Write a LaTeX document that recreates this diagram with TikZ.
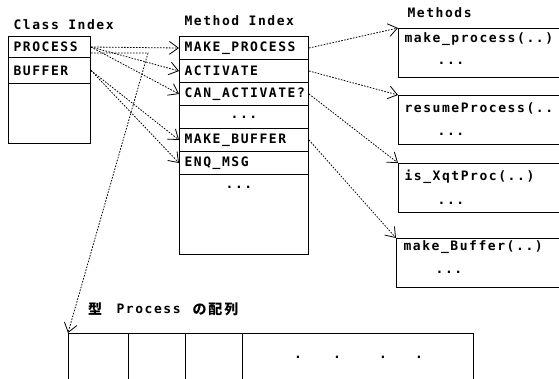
\documentclass[tikz,border=0pt]{standalone}
\usepackage{fontspec}
\newfontfamily\plotfont[LetterSpace=12]{DejaVu Sans Mono}
\newfontfamily\jpfont{Noto Sans CJK JP}
\usetikzlibrary{arrows.meta}

\tikzset{every picture/.style={line width=1pt}}

\begin{document}
\begin{tikzpicture}[x=1pt,y=1pt,yscale=-1,
  txt/.style={font=\plotfont\bfseries\fontsize{13}{15}\selectfont, inner sep=0pt},
  jp/.style={font=\jpfont\bfseries\fontsize{14}{14}\selectfont, inner sep=0pt},
  row/.style={draw, anchor=north west, txt, inner xsep=5pt, align=left},
  clsrow/.style={row, text width=72pt},
  idxrow/.style={row, text width=119pt, minimum height=23pt},
  body/.style={draw, anchor=north west, minimum width=180pt, minimum height=49pt},
  slot/.style={draw, anchor=north west, minimum height=60pt},
  link/.style={dash pattern=on 1.6pt off 1.4pt, line width=0.8pt,
    -{Straight Barb[length=9pt,width=13pt,line width=0.8pt]}}]
	\useasboundingbox (0,0) rectangle (559,378);
	\clip (0,0) rectangle (559,378);
	
	% Class Index
	\node[txt, anchor=west] (clstitle) at (13,25) {Class Index};
	\node[clsrow, minimum height=21pt] (process) at (8,36) {PROCESS};
	\node[clsrow, minimum height=26pt] (buffer) at (8,57) {BUFFER};
	\node[clsrow, minimum height=60pt] (clsrest) at (8,83) {};
	
	% Method Index
	\node[txt, anchor=west] (idxtitle) at (184,21) {Method Index};
	\node[idxrow] (mproc) at (179,36) {MAKE\_PROCESS};
	\node[idxrow] (mact) at (179,59) {ACTIVATE};
	\node[idxrow] (mcan) at (179,82) {CAN\_ACTIVATE?};
	\node[idxrow, align=center] (mgap) at (179,105) {...};
	\node[idxrow] (mbuf) at (179,128) {MAKE\_BUFFER};
	\node[idxrow] (menq) at (179,151) {ENQ\_MSG};
	\node[idxrow, minimum height=80pt] (mrest) at (179,174) {};
	\node[txt] (mdots) at (239,187) {...};
	
	% Methods
	\node[txt, anchor=west] (bodytitle) at (407,13) {Methods};
	\node[body] (meth1) at (398,28) {};
	\node[txt, anchor=west] (name1) at (404,39) {make\_process(..)};
	\node[txt] (dots1) at (451,63) {...};
	\node[body] (meth2) at (398,95) {};
	\node[txt, anchor=west] (name2) at (404,108) {resumeProcess(..};
	\node[txt] (dots2) at (451,134) {...};
	\node[body] (meth3) at (398,163) {};
	\node[txt, anchor=west] (name3) at (404,177) {is\_XqtProc(..)};
	\node[txt] (dots3) at (451,203) {...};
	\node[body] (meth4) at (396,238) {};
	\node[txt, anchor=west] (name4) at (403,247) {make\_Buffer(..)};
	\node[txt] (dots4) at (449,272) {...};
	
	% array of Process
	\node[jp] (arrtype) at (95,309) {型};
	\node[txt, anchor=west] (arrname) at (116,309) {Process};
	\node[jp, anchor=west] (arrof) at (192,309) {の\hspace{2pt}配\hspace{2pt}列};
	\node[slot, minimum width=60pt] (slot1) at (68,333) {};
	\node[slot, minimum width=57pt] (slot2) at (128,333) {};
	\node[slot, minimum width=57pt] (slot3) at (185,333) {};
	\node[slot, minimum width=231pt] (slot4) at (242,333) {};
	\foreach \x in {298,337,383,419}
		\node[txt] (adot\x) at (\x,357) {.};
	
	% links
	\draw[link] (process.east) -- (mproc.west);
	\draw[link] (process.east) -- (mact.west);
	\draw[link] (process.east) -- (mcan.west);
	\draw[link] (buffer.east) -- (mbuf.west);
	\draw[link] (buffer.east) -- (menq.west);
	\coordinate (bend) at (148,53);
	\draw[link] (process.east |- bend) -- (bend) -- (slot1.north west);
	\draw[link] (mproc.east) -- (meth1.north west);
	\draw[link] (mact.east) -- (meth2.north west);
	\draw[link] (mcan.east) -- (meth3.north west);
	\draw[link] (mbuf.east) -- (meth4.north west);
	
\end{tikzpicture}
\end{document}
